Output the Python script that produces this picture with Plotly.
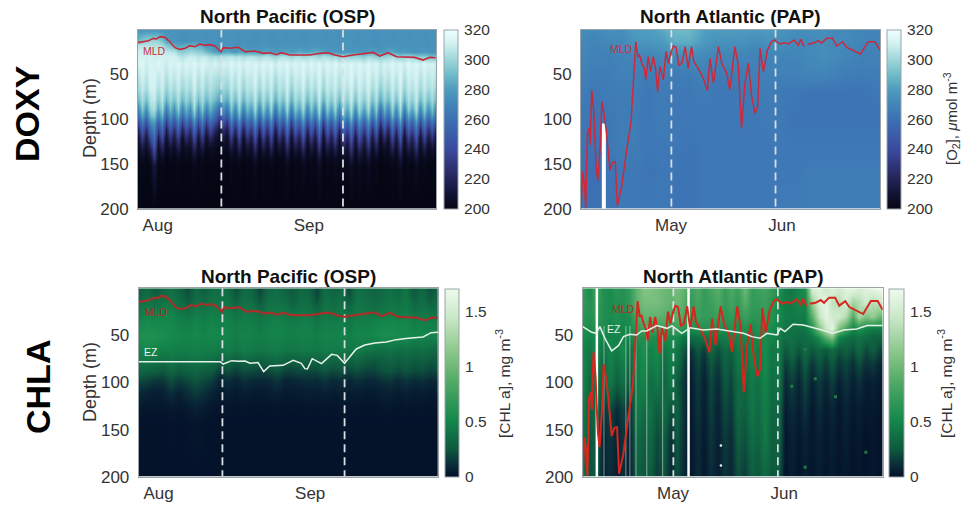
import plotly.graph_objects as go

W, H = 961, 505
FONT = "Liberation Sans"
TXT = "#333333"

# ---------- time axes (days from the start of each record) ----------
osp_o2_days = list(range(76))
osp_chl_days = [2 * i for i in range(38)]
pap_o2_days = [4 * i for i in range(23)]
pap_chl_days = [2 * i for i in range(45)]
osp_month_days = [20.7, 50.9]
pap_month_days = [26.9, 57.9]
osp_tick_days = [4.9, 42.4]
osp_tick_text = ["Aug", "Sep"]
pap_tick_days = [26.8, 59.8]
pap_tick_text = ["May", "Jun"]

# ---------- mixed layer depth ----------
osp_mld_day = [0, 1.3, 2.6, 3.8, 4.6, 5.5, 6.7, 7.9, 9.2, 10.4, 11.7, 12.9, 14.1, 15.4, 16.6, 17.9, 19.1, 20.6, 21.2, 22.8,
               24.9, 26.6, 27.8, 29, 31.1, 32.8, 34.4, 35.6, 37.7, 40.2, 42.7, 45.2, 47.2, 48.9, 50.9, 53.4, 55.9, 58.4,
               60, 62.1, 64.2, 66.7, 68.7, 70.8, 72.5, 73.9]
osp_mld = [14.7, 13.2, 12.5, 9.9, 10.6, 8, 8.8, 13.6, 20.3, 22.2, 21, 18, 19.2, 16.2, 17.7, 16.9, 18.4, 24.8, 20.3, 21,
           19.9, 24.8, 24, 24, 26.6, 25.9, 28.1, 25.9, 28.5, 28.5, 28.5, 26.6, 25.9, 28.5, 30.4, 28.5, 27.4, 25.5,
           29.6, 25.9, 30.4, 30.4, 31.1, 34.1, 31.1, 31.5]
pap_mld_day = [0, .5, 1, 1.4, 1.9, 2.4, 2.7, 3.2, 3.8, 4.5, 5, 5.7, 6.2, 6.9, 7.6, 8.6, 9.4, 10.2, 10.8, 12.1, 13.6, 14.9,
               16.3, 16.9, 17.4, 18.1, 18.8, 19.3, 20, 20.7, 21.5, 22.2, 22.8, 23.5, 24.5, 25.3, 26, 26.7, 27.5, 28.3,
               29.1, 30, 31, 31.9, 32.9, 33.6, 34.9, 36.4, 37.6, 38.4, 39.4, 40.9, 41.9, 43.4, 44.3, 45.8, 46.8, 47.8,
               48.8, 49.8, 50.8, 51.8, 52.6, 53.3, 54.3, 55.5, 56.7, 57.5, 59.2, 60.7, 61.7, 63.4, 64.7, 65.4, 66.4,
               None, 67.4, 69.1, 70.6, 71.6, 73.1, 74.9, 76.1, 77.9, 79.1, 83.2, 85.5, 87.5, 89]
pap_mld = [199.4, 158.6, 171.6, 199.4, 115.8, 110.2, 128.8, 67.5, 93.5, 153, 168.6, 130.7, 80.5, 95.4, 115.8, 156.7, 148.1, 147.4, 196.8, 175.3, 134.4, 102.8,
           13.6, 30.3, 28.4, 37.7, 43.3, 55.6, 30.3, 47, 30.3, 43.3, 69.3, 41.4, 56.3, 24.7, 37.7, 26.6, 18.4, 19.9,
           39.6, 37.7, 19.1, 43.3, 19.1, 35.9, 43.3, 54.5, 68.2, 32.2, 60, 19.1, 37.7, 48.9, 67.5, 19.1, 39.6, 110.2,
           60, 37.7, 74.9, 93.5, 86.1, 21, 47, 22.9, 13.6, 11.7, 16.2, 14.7, 16.2, 11.7, 17.3, 11, 19.1,
           None, 16.5, 15.4, 12.5, 15.4, 9.9, 9.9, 18.4, 13.6, 19.9, 27.3, 13.6, 13.6, 22.9]

# ---------- euphotic zone depth ----------
osp_ez_day = [0, 20.1, 20.9, 23, 24.6, 26.3, 27.5, 29.5, 30.9, 32.4, 35.7, 38.2, 40.2, 41.1, 41.7, 42.9, 45.2, 47.7, 49.1,
              50.9, 52.2, 53.8, 55.9, 58.4, 61.2, 63.7, 66.6, 70.3, 72.3, 74]
osp_ez = [77.9, 77.9, 80.4, 76.8, 77.5, 77.2, 79.6, 78.9, 88.5, 82.5, 81.8, 76.5, 79.6, 85.3, 85.7, 74.7, 80, 70.1, 71.2,
          79.6, 72.6, 64.4, 60.2, 58, 57, 54.5, 53.1, 51.7, 47.1, 46.7]
pap_ez_day = [0, 1.2, 2.7, 4, 5.1, 6.6, 8.6, 10.6, 12.1, 14, 16, 17.5, 19, 22, 25, 26.5, 29.4, 31.9, 35.8, 39.8, 43.7, 47.7,
              50.2, 52.6, 54.6, 57.6, 58.6, 60, 62.4, 65.4, 69.9, 74.2, 77.5, 81.3, 84.4, 89]
pap_ez = [40.7, 43.5, 46.7, 47.8, 40.7, 53.1, 66.5, 60.9, 51.3, 48.8, 49.6, 45.3, 45.3, 39.6, 42.5, 40, 47.8, 41.8, 44.2, 43.2, 45.3, 47.8,
          51.3, 53.1, 47.8, 49.6, 42.5, 46, 38.2, 38.9, 43.2, 47.8, 44.2, 43.2, 39.6, 39.6]

# ---------- oxygen, North Pacific ----------
osp_o2_depth = [0, 12, 18, 24, 30, 38, 50, 65, 78, 88, 96, 104, 112, 122, 132, 142, 152, 200]
osp_o2 = [
 [278,277,277,276,276,276,275,275,276,276, 276,275,275,276,277,276,276,275,276,276, 275,276,277,276,275,275,276,276,275,275, 275,276,276,275,275,276,276,275,276,276, 276,275,275,276,277,276,276,275,276,276, 275,276,277,276,275,275,276,276,275,275, 275,276,276,275,275,276,276,275,276,276, 276,275,275,276,276,275],
 [288,294,297,300,300,298,292,282,278,277, 276,275,275,276,277,276,276,275,276,276, 275,276,277,276,275,275,276,276,275,275, 275,276,276,275,275,276,276,275,276,276, 276,275,275,276,277,276,276,275,276,276, 275,276,277,276,275,275,276,276,275,275, 275,276,276,275,275,276,276,275,276,276, 276,275,275,276,276,275],
 [305,306,306,305,304,305,303,296,292,286, 283,285,287,289,288,286,284,278,277,276, 276,277,276,277,276,276,277,276,276,276, 276,277,277,276,276,276,276,276,277,276, 277,276,276,277,277,276,276,276,276,277, 276,277,277,276,276,276,276,276,276,275, 275,276,277,276,276,276,276,276,276,276, 276,276,275,276,276,275],
 [310,311,311,310,309,310,309,307,306,305, 298,296,298,300,299,297,296,290,286,280, 278,282,284,280,278,282,281,280,279,280, 278,281,283,280,278,279,282,281,279,280, 284,282,281,283,285,284,282,280,278,278, 277,278,278,277,279,278,277,280,281,280, 278,279,283,284,280,278,279,277,276,276, 277,278,277,276,277,276],
 [312,312,311,312,310,311,312,310,312,312, 308,305,307,310,309,306,308,307,304,304, 302,304,306,307,304,306,303,305,306,304, 302,304,306,302,300,303,306,303,301,304, 305,301,303,306,303,300,305,304,300,302, 297,299,301,298,301,299,297,302,300,298, 297,299,301,303,300,297,300,302,299,296, 295,297,293,291,294,290],
 [312,315,310,314,311,315,312,309,314,311, 315,310,314,311,315,310,314,312,309,313, 309,312,310,315,311,314,310,315,311,314, 310,314,311,315,309,314,311,315,310,314, 311,315,310,314,311,315,309,314,311,315, 310,314,311,315,311,314,310,315,311,314, 308,312,310,315,311,314,309,315,311,314, 310,314,311,313,309,312],
 [306,312,307,313,313,308,312,305,311,307, 312,306,310,307,313,306,311,305,309,306, 304,307,305,311,306,312,305,310,308,313, 306,312,307,312,304,310,307,313,305,311, 308,313,306,311,307,314,305,312,308,312, 306,312,309,314,307,313,308,314,307,312, 305,310,306,312,307,314,305,312,309,313, 306,311,307,310,305,310],
 [301,309,302,311,312,304,310,299,307,302, 309,300,306,302,311,301,308,299,305,300, 296,302,298,308,301,310,299,307,304,311, 300,309,302,310,297,307,302,311,298,308, 304,311,300,308,302,312,299,309,304,310, 301,310,305,312,302,311,304,312,302,309, 297,306,300,310,302,312,299,309,305,311, 301,309,302,307,299,306],
 [290,303,292,306,308,296,306,288,301,292, 305,289,300,292,307,291,303,289,298,290, 282,292,285,303,290,306,288,301,295,307, 289,304,292,306,286,301,292,307,287,303, 296,307,290,303,292,309,288,304,295,306, 290,306,297,309,292,307,296,308,292,304, 285,300,290,306,292,309,288,304,297,308, 290,304,292,302,288,300],
 [272,296,276,300,304,284,300,268,292,276, 298,272,290,276,302,274,296,270,288,272, 258,276,264,296,272,300,270,292,280,302, 272,298,276,300,266,292,276,302,268,296, 282,302,272,296,276,304,268,298,280,300, 272,300,284,304,276,302,282,304,276,298, 262,290,272,300,276,304,270,298,284,304, 272,298,276,294,268,290],
 [258,284,262,290,296,270,290,252,280,262, 286,256,278,262,292,260,284,254,276,258, 240,262,248,284,258,290,254,280,266,292, 256,286,262,290,250,280,262,292,252,284, 268,292,258,284,262,296,252,286,266,290, 258,290,270,296,262,292,268,294,262,288, 246,278,256,290,262,296,254,286,270,294, 258,288,262,282,254,278],
 [238,266,242,272,280,250,272,232,262,242, 268,236,258,242,274,240,266,234,256,238, 224,242,228,266,238,272,234,262,246,276, 236,268,242,272,230,262,242,276,232,266, 248,276,238,266,242,280,232,268,246,272, 238,272,250,280,242,276,248,278,242,270, 228,258,236,272,242,280,234,268,250,278, 238,270,242,262,234,258],
 [222,250,226,256,270,234,256,218,246,226, 252,220,242,226,258,224,250,218,240,222, 212,226,216,250,222,256,218,246,230,260, 220,252,226,256,216,246,226,260,218,250, 232,260,222,250,226,264,218,252,230,256, 222,256,234,264,226,260,232,262,226,254, 214,242,220,256,226,264,218,252,234,262, 222,254,226,246,218,242],
 [208,232,212,238,258,216,238,206,228,212, 234,206,224,212,240,210,232,206,222,208, 204,212,206,232,208,238,206,228,214,242, 206,234,212,238,205,228,212,242,206,232, 216,242,208,232,212,246,206,234,216,238, 208,238,218,246,212,242,216,244,212,236, 204,224,208,238,212,246,206,234,218,244, 208,236,212,228,206,224],
 [204,216,205,220,246,206,222,203,212,205, 218,203,208,205,224,204,216,203,206,204, 202,204,203,216,204,222,203,212,206,226, 203,218,205,222,202,212,205,226,203,216, 208,226,204,216,205,230,203,218,208,222, 204,222,208,232,205,226,208,228,205,220, 202,208,204,222,205,230,203,218,210,228, 204,220,205,212,203,208],
 [202,206,202,208,232,203,208,201,204,202, 206,201,203,202,210,202,205,201,203,202, 201,202,201,205,202,208,201,204,203,212, 201,206,202,208,201,203,202,212,201,205, 203,212,202,205,202,216,201,206,203,208, 202,208,203,218,202,212,203,214,202,207, 201,203,202,208,202,216,201,206,204,214, 202,207,202,204,201,203],
 [201,202,201,202,214,201,202,200,201,201, 202,200,201,201,203,201,202,200,201,201, 200,201,200,202,201,202,200,201,201,204, 200,202,201,202,200,201,201,204,200,202, 201,204,201,202,201,206,200,202,201,203, 201,202,201,206,201,204,201,205,201,202, 200,201,201,202,201,206,200,202,201,205, 201,202,201,201,200,201],
 [200] * 76,
]

# ---------- oxygen, North Atlantic ----------
pap_o2_depth = [0, 12, 30, 50, 70, 100, 130, 160, 200]
pap_o2 = [
 [274,272,276,274,280,280,284,290,290,282,280,280,280,278,280,276,274,274,274,272,272,270,270],
 [272,270,272,272,278,278,280,286,286,280,276,276,276,274,276,274,272,272,274,272,272,270,270],
 [270,268,268,270,270,270,272,272,274,272,270,270,270,268,270,270,270,272,274,272,270,268,268],
 [268,266,266,268,268,266,268,266,266,268,266,266,266,268,268,268,268,270,270,268,266,266,266],
 [266,264,266,266,266,264,266,264,264,266,264,264,264,266,266,264,264,262,262,262,262,262,264],
 [264,262,264,266,266,264,266,264,264,264,264,264,264,264,266,264,262,262,262,262,262,262,262],
 [262,262,264,266,266,264,264,264,262,264,264,264,264,264,264,264,264,264,264,264,264,264,264],
 [262,260,262,264,264,262,264,262,262,264,264,264,264,264,264,264,264,266,266,266,266,266,266],
 [262,260,262,264,264,264,264,262,262,264,264,264,264,264,264,266,266,266,266,266,266,266,266],
]
pap_o2_gap_day = [6.8]
pap_o2_gap_depth = [105, 200]

# ---------- chlorophyll, North Pacific ----------
osp_chl_depth = [0, 8, 16, 24, 35, 50, 65, 78, 88, 98, 110, 125, 140, 200]
osp_chl = [
 [.30,.34,.25,.32,.38,.30,.20,.34,.28,.36, .38,.36,.22,.34,.30,.18,.32,.36,.30,.26, .34,.30,.18,.36,.30,.34,.20,.38,.34,.30, .34,.38,.32,.40,.24,.34,.22,.30],
 [.34,.38,.30,.36,.40,.34,.24,.36,.32,.38, .40,.38,.26,.38,.34,.22,.36,.38,.34,.28, .36,.34,.20,.38,.34,.36,.24,.40,.36,.34, .36,.40,.36,.42,.28,.36,.26,.34],
 [.38,.42,.38,.42,.44,.38,.30,.40,.36,.42, .42,.40,.32,.40,.38,.28,.38,.40,.38,.32, .38,.36,.26,.40,.36,.38,.30,.42,.38,.36, .38,.42,.40,.44,.34,.38,.32,.36],
 [.44,.48,.44,.46,.48,.42,.38,.44,.42,.46, .44,.44,.38,.44,.42,.36,.42,.44,.42,.38, .42,.40,.34,.42,.40,.42,.36,.44,.42,.40, .42,.44,.42,.46,.38,.42,.38,.40],
 [.50,.54,.52,.52,.52,.48,.46,.50,.46,.50, .48,.48,.44,.46,.46,.42,.46,.48,.46,.44, .46,.46,.42,.46,.44,.46,.42,.48,.46,.48, .50,.52,.50,.52,.46,.48,.46,.46],
 [.56,.60,.58,.56,.54,.52,.50,.52,.50,.52, .50,.50,.46,.50,.48,.46,.48,.50,.48,.46, .48,.48,.46,.50,.48,.50,.46,.50,.50,.52, .56,.56,.54,.54,.50,.52,.50,.50],
 [.50,.52,.50,.48,.48,.46,.46,.48,.46,.46, .44,.46,.42,.46,.44,.42,.44,.46,.42,.42, .44,.44,.42,.46,.44,.46,.42,.46,.42,.40, .38,.40,.38,.40,.36,.38,.36,.34],
 [.42,.42,.40,.36,.40,.36,.38,.40,.38,.36, .30,.32,.26,.32,.30,.28,.30,.34,.28,.28, .30,.30,.30,.34,.30,.32,.28,.32,.26,.24, .28,.30,.26,.30,.26,.28,.24,.26],
 [.32,.30,.28,.24,.32,.26,.30,.32,.28,.26, .16,.22,.16,.22,.20,.18,.20,.24,.18,.18, .20,.20,.20,.24,.20,.22,.18,.22,.18,.18, .22,.24,.20,.24,.20,.22,.18,.20],
 [.20,.18,.14,.14,.22,.16,.20,.24,.20,.16, .08,.12,.08,.12,.10,.09,.10,.14,.08,.09, .10,.11,.10,.14,.10,.12,.09,.12,.09,.09, .12,.14,.10,.14,.10,.12,.09,.10],
 [.10,.08,.06,.07,.12,.07,.12,.16,.12,.08, .04,.06,.04,.06,.05,.04,.05,.07,.04,.05, .05,.06,.05,.07,.05,.06,.05,.06,.04,.05, .06,.07,.05,.07,.05,.06,.04,.05],
 [.04,.03,.03,.03,.05,.03,.05,.08,.05,.03, .02,.03,.02,.03,.02,.02,.02,.03,.02,.02, .02,.03,.02,.03,.02,.03,.02,.03,.02,.02, .03,.03,.02,.03,.02,.03,.02,.02],
 [.02,.01,.01,.01,.02,.01,.02,.03,.02,.01, .01,.01,.01,.01,.01,.01,.01,.01,.01,.01, .01,.01,.01,.01,.01,.01,.01,.01,.01,.01, .01,.01,.01,.01,.01,.01,.01,.01],
 [.01] * 38,
]

# ---------- chlorophyll, North Atlantic ----------
pap_chl_depth = [0, 15, 30, 42, 52, 65, 80, 100, 130, 160, 200]
pap_chl = [
 [.7,.55,.8,.6,.55,.65,.6,.7,.95,1.1, 1.1,1.05,1.0,.95,1.05,.95,.75,.85,.7,.8, .9,.7,.85,.75,1.0,.7,.75,.8,.7,.6, .45,.4,.5,.55,1.55,1.6,1.45,1.6,1.5,1.6, 1.65,1.55,1.6,1.65,1.7],
 [.7,.6,.75,.6,.55,.6,.6,.7,.95,1.05, 1.05,1.05,1.0,.95,1.0,.9,.7,.8,.7,.75, .85,.7,.8,.7,.9,.7,.7,.75,.65,.55, .45,.45,.5,.5,1.2,1.55,1.65,1.4,1.35,1.55, 1.25,1.35,1.5,1.35,1.45],
 [.65,.6,.7,.6,.55,.6,.55,.6,.85,.95, .95,.95,.9,.85,.9,.85,.7,.75,.7,.7, .75,.65,.7,.65,.75,.65,.65,.7,.6,.55, .45,.42,.45,.45,.9,1.4,1.65,1.5,1.5,1.35, .85,1.3,1.1,1.2,1.0],
 [.6,.55,.6,.55,.5,.55,.5,.55,.7,.8, .8,.75,.75,.7,.75,.65,.55,.6,.6,.6, .6,.55,.6,.55,.6,.55,.6,.6,.55,.5, .42,.4,.4,.4,.6,1.1,1.45,1.65,1.1,.8, .5,.6,.5,.45,.45],
 [.55,.5,.55,.5,.5,.5,.5,.5,.6,.6, .6,.55,.55,.55,.55,.4,.35,.38,.4,.42, .45,.45,.5,.5,.55,.5,.55,.55,.5,.45, .38,.38,.35,.35,.4,.55,.9,1.1,.5,.4, .35,.4,.35,.3,.3],
 [.5,.42,.55,.4,.52,.45,.55,.38,.5,.58, .48,.55,.42,.5,.42,.25,.14,.26,.16,.34, .22,.36,.3,.46,.4,.55,.44,.56,.42,.46, .26,.36,.24,.36,.26,.34,.26,.36,.24,.3, .22,.34,.2,.28,.18],
 [.52,.38,.5,.34,.48,.38,.46,.32,.48,.54, .44,.5,.36,.46,.38,.18,.08,.2,.1,.26, .16,.3,.24,.42,.38,.5,.42,.54,.4,.44, .16,.26,.14,.28,.14,.24,.16,.26,.14,.2, .12,.22,.12,.16,.08],
 [.5,.32,.46,.28,.44,.28,.38,.24,.46,.5, .36,.44,.32,.42,.26,.14,.05,.16,.06,.2, .1,.26,.18,.36,.34,.44,.38,.5,.36,.42, .09,.17,.08,.2,.07,.16,.08,.17,.06,.14, .06,.12,.05,.07,.04],
 [.46,.28,.38,.12,.2,.1,.18,.1,.44,.36, .4,.26,.36,.22,.3,.12,.04,.14,.05,.17, .07,.2,.14,.34,.28,.42,.34,.46,.32,.34, .05,.11,.05,.13,.03,.11,.04,.09,.03,.08, .03,.06,.03,.04,.02],
 [.4,.24,.3,.08,.14,.07,.14,.07,.36,.28, .34,.2,.28,.12,.26,.11,.03,.11,.04,.14, .06,.16,.1,.28,.22,.36,.3,.44,.28,.32, .03,.07,.03,.07,.03,.07,.03,.06,.02,.06, .02,.04,.01,.03,.01],
 [.36,.22,.26,.07,.11,.06,.11,.06,.3,.24, .28,.16,.24,.09,.22,.09,.03,.1,.03,.11, .05,.13,.08,.22,.16,.28,.24,.34,.24,.26, .02,.06,.02,.06,.02,.06,.02,.05,.02,.04, .01,.03,.01,.03,.01],
]
pap_chl_wide_gap_day = [4.2, 31.4]
pap_chl_thin_gap_day = [6.3, 12.8, 14, 15.8, 19, 23.7]
pap_chl_thin_gap_depth = [40, 200]
pap_speck_day = [41, 41]
pap_speck_depth = [167, 188]
pap_green_speck_day = [69, 66, 66, 75, 62, 84]
pap_green_speck_depth = [96, 65, 190, 115, 104, 174]

# ---------- tick labels ----------
depth_ticks = [50, 100, 150, 200]
o2_ticks = [200, 220, 240, 260, 280, 300, 320]
chl_ticks = [0, 0.5, 1, 1.5]
chl_tick_text = ["0", "0.5", "1", "1.5"]

ICE = [[0, "#040613"], [.1, "#15163a"], [.2, "#2a2a66"], [.33, "#3b4a9f"], [.42, "#3b5eaa"], [.5, "#3b70b4"],
       [.6, "#4389b9"], [.67, "#4e9dbf"], [.75, "#6fbbc9"], [.83, "#9ad5d9"], [.92, "#d0f0f0"], [1, "#f0feff"]]
ALGAE = [[0, "#031029"], [.06, "#0a2a38"], [.15, "#0e5a3f"], [.3, "#14874b"], [.5, "#4fa965"], [.65, "#85c485"],
         [.85, "#cae8c8"], [1, "#eefaec"]]


def fx(p):
    return p / W


def fy(p):
    return 1 - p / H


panels = [
    dict(ax="", box=(138, 436, 29.5, 208.7), cb=(443.7, 457.3)),
    dict(ax="2", box=(581, 880, 29.5, 208.7), cb=(886.7, 901)),
    dict(ax="3", box=(138.7, 438, 288.3, 476.7), cb=(445, 459)),
    dict(ax="4", box=(582.7, 882.7, 288.3, 476.7), cb=(889, 903.7)),
]

fig = go.Figure()


def heat(i, x, y, z, cs, zmin, zmax, tv, tt):
    p = panels[i]
    l, r, t, b = p["box"]
    fig.add_trace(go.Heatmap(
        x=x, y=y, z=z, colorscale=cs, zmin=zmin, zmax=zmax, zsmooth="best",
        xaxis="x" + p["ax"], yaxis="y" + p["ax"], hoverinfo="skip",
        colorbar=dict(x=fx(p["cb"][0]), xanchor="left", y=fy(b), yanchor="bottom", len=(b - t) / H, lenmode="fraction",
                      thickness=p["cb"][1] - p["cb"][0], thicknessmode="pixels", xpad=0, ypad=0,
                      outlinecolor="#9aa3a8", outlinewidth=1, tickvals=tv, ticktext=tt,
                      ticks="outside", ticklen=3, tickcolor="rgba(0,0,0,0)",
                      tickfont=dict(family=FONT, size=15.5, color=TXT))))


def line(i, x, y, color, width, dash=None, opacity=1.0):
    p = panels[i]
    fig.add_trace(go.Scatter(x=x, y=y, mode="lines", xaxis="x" + p["ax"], yaxis="y" + p["ax"],
                             line=dict(color=color, width=width, dash=dash), opacity=opacity,
                             connectgaps=False, showlegend=False, hoverinfo="skip"))


heat(0, osp_o2_days, osp_o2_depth, osp_o2, ICE, 200, 320, o2_ticks, [str(v) for v in o2_ticks])
heat(1, pap_o2_days, pap_o2_depth, pap_o2, ICE, 200, 320, o2_ticks, [str(v) for v in o2_ticks])
heat(2, osp_chl_days, osp_chl_depth, osp_chl, ALGAE, 0, 1.71, chl_ticks, chl_tick_text)
heat(3, pap_chl_days, pap_chl_depth, pap_chl, ALGAE, 0, 1.71, chl_ticks, chl_tick_text)

# data gaps
for d in pap_o2_gap_day:
    line(1, [d, d], pap_o2_gap_depth, "white", 4)
for d in pap_chl_wide_gap_day:
    line(3, [d, d], [0, 200], "white", 2.5)
for d in pap_chl_thin_gap_day:
    line(3, [d, d], pap_chl_thin_gap_depth, "#e8f0ea", 1.2, opacity=0.45)

# month separators
DASH = "8px,5px"
for i, days in enumerate([osp_month_days, pap_month_days, osp_month_days, pap_month_days]):
    for d in days:
        line(i, [d, d], [0, 200], "#d9dee2", 1.8, DASH)

# MLD and EZ
line(0, osp_mld_day, osp_mld, "#c8283a", 1.6)
line(1, pap_mld_day, pap_mld, "#cc2a3c", 1.5)
line(2, osp_mld_day, osp_mld, "#a8302c", 2.2)
line(3, pap_mld_day, pap_mld, "#d4281f", 2.0)
line(2, osp_ez_day, osp_ez, "#e8f2ea", 1.5)
line(3, pap_ez_day, pap_ez, "#e8f2ea", 1.5)

# isolated bright samples in the chlorophyll record
fig.add_trace(go.Scatter(x=pap_speck_day, y=pap_speck_depth, mode="markers", xaxis="x4", yaxis="y4",
                         marker=dict(color="#e8f2ea", size=2.5), showlegend=False, hoverinfo="skip"))
fig.add_trace(go.Scatter(x=pap_green_speck_day, y=pap_green_speck_depth, mode="markers", xaxis="x4", yaxis="y4",
                         marker=dict(color="#1f7a4a", size=3, symbol="square"), showlegend=False, hoverinfo="skip"))

layout = dict(
    width=W, height=H, autosize=False, paper_bgcolor="white", plot_bgcolor="white", showlegend=False,
    margin=dict(l=0, r=0, t=0, b=0, pad=0, autoexpand=False), font=dict(family=FONT, color=TXT),
)
x_specs = [(74, osp_tick_days, osp_tick_text), (89, pap_tick_days, pap_tick_text),
           (74, osp_tick_days, osp_tick_text), (89, pap_tick_days, pap_tick_text)]
for i, p in enumerate(panels):
    l, r, t, b = p["box"]
    xmax, tv, tt = x_specs[i]
    layout["xaxis" + p["ax"]] = dict(
        domain=[fx(l), fx(r)], range=[0, xmax], anchor="y" + p["ax"], tickvals=tv, ticktext=tt,
        ticks="outside", ticklen=1, tickcolor="rgba(0,0,0,0)", showgrid=False, zeroline=False,
        showline=True, mirror=True, linecolor="#9aa3a8", linewidth=1, tickfont=dict(family=FONT, size=17, color=TXT))
    layout["yaxis" + p["ax"]] = dict(
        domain=[fy(b), fy(t)], range=[200, 0], anchor="x" + p["ax"], tickvals=depth_ticks,
        ticktext=[str(v) for v in depth_ticks],
        ticks="outside", ticklen=5, tickcolor="rgba(0,0,0,0)", showgrid=False, zeroline=False,
        showline=True, mirror=True, linecolor="#9aa3a8", linewidth=1, tickfont=dict(family=FONT, size=17, color=TXT))
fig.update_layout(**layout)


def label(px, py, text, size, color=TXT, bold=False, angle=0):
    fig.add_annotation(x=fx(px), y=fy(py), xref="paper", yref="paper", text=f"<b>{text}</b>" if bold else text,
                       showarrow=False, xanchor="center", yanchor="middle", textangle=angle,
                       font=dict(family=FONT, size=size, color=color))


label(287, 16, "North Pacific (OSP)", 19, "#111111", True)
label(730, 16, "North Atlantic (PAP)", 19, "#111111", True)
label(288, 276, "North Pacific (OSP)", 19, "#111111", True)
label(733, 276, "North Atlantic (PAP)", 19, "#111111", True)
label(27, 114, "DOXY", 34, "#000000", True, -90)
label(38, 387, "CHLA", 34, "#000000", True, -90)
label(90, 118, "Depth (m)", 18, TXT, False, -90)
label(90, 382, "Depth (m)", 18, TXT, False, -90)
CHL_TITLE = "[CHL a], mg m<sup>-3</sup>"
label(951, 119, "[O<sub>2</sub>], <i>μ</i>mol m<sup>-3</sup>", 15, TXT, False, -90)
label(503, 384, CHL_TITLE, 15.5, TXT, False, -90)
label(945, 384, CHL_TITLE, 15.5, TXT, False, -90)
label(154, 51, "MLD", 10.5, "#c8323a")
label(621, 49, "MLD", 10.5, "#c8323a")
label(156, 312, "MLD", 10.5, "#a8302c")
label(623, 309, "MLD", 10.5, "#b02c24")
label(151, 352, "EZ", 10.5, "#e8f2ea")
label(614, 329, "EZ", 10.5, "#e8f2ea")

fig.write_html("out.html", config={"displayModeBar": False},
               post_script="document.body.style.margin='0';document.documentElement.style.overflow='hidden';")
